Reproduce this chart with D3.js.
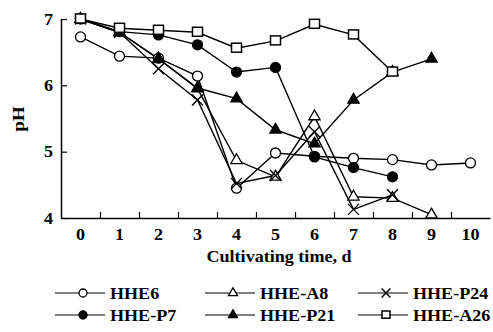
<!DOCTYPE html>
<html lang="en">
<head>
<meta charset="UTF-8">
<title>pH vs cultivating time</title>
<style>
  body, html { margin: 0; padding: 0; background: #fff; }
  svg text { font-family: "Liberation Serif", "Times New Roman", serif; font-weight: bold; fill: #000; }
</style>
<script src="https://d3js.org/d3.v7.min.js"></script>
</head>
<body>
<div id="chart"></div>
<script>
// data
const days = [0, 1, 2, 3, 4, 5, 6, 7, 8, 9, 10];
const hhe6  = [6.73, 6.44, 6.41, 6.14, 4.45, 4.98, 4.93, 4.90, 4.88, 4.80, 4.83];
const hheA8 = [7.00, 6.80, 6.40, 5.95, 4.87, 4.62, 5.53, 4.32, 4.30, 4.05];
const hheP24 = [7.00, 6.80, 6.25, 5.78, 4.52, 4.64, 5.30, 4.13, 4.35];
const hheP7 = [7.00, 6.81, 6.76, 6.61, 6.20, 6.27, 4.92, 4.76, 4.62];
const hheP21 = [7.00, 6.80, 6.40, 5.96, 5.80, 5.33, 5.12, 5.78, 6.20, 6.40];
const hheA26 = [7.00, 6.86, 6.83, 6.80, 6.56, 6.67, 6.92, 6.76, 6.20];
const yTicks = [4, 5, 6, 7];

const series = [
  { name: "HHE6", values: hhe6, marker: "circle", fill: "#fff" },
  { name: "HHE-A8", values: hheA8, marker: "triangle", fill: "#fff" },
  { name: "HHE-P24", values: hheP24, marker: "cross", fill: "none" },
  { name: "HHE-P7", values: hheP7, marker: "circle", fill: "#000" },
  { name: "HHE-P21", values: hheP21, marker: "triangle", fill: "#000" },
  { name: "HHE-A26", values: hheA26, marker: "square", fill: "#fff" }
];

const W = 493, H = 332;
const SX = 1.13; // the scanned type is a bit wider than Liberation Serif
const svg = d3.select("#chart").append("svg")
  .attr("width", W).attr("height", H);

const x = d3.scaleLinear().domain([-0.5, 10.5]).range([61, 490]);
const y = d3.scaleLinear().domain([4, 7]).range([218, 19]);

function label(parent, tx, ty, str, size, anchor, rot) {
  return parent.append("text")
    .attr("transform", `translate(${tx},${ty})` + (rot ? ` rotate(${rot})` : "") + ` scale(${SX},1)`)
    .attr("text-anchor", anchor || "start")
    .style("font-size", size + "px")
    .text(str);
}

// axes: ticks point inward
const xAxis = svg.append("g")
  .attr("transform", `translate(0,${y(4)})`)
  .call(d3.axisBottom(x).tickValues(d3.range(0.5, 10.5, 1)).tickSize(-6).tickFormat("").tickSizeOuter(0));
xAxis.select(".domain").attr("stroke-width", 1.5);
xAxis.selectAll(".tick line").attr("stroke-width", 1.2);

const yAxis = svg.append("g")
  .attr("transform", `translate(${x(-0.5)},0)`)
  .call(d3.axisLeft(y).tickValues(yTicks).tickSize(-6).tickFormat("").tickSizeOuter(0));
yAxis.select(".domain").attr("stroke-width", 1.5);
yAxis.selectAll(".tick line").attr("stroke-width", 1.2);

// tick labels
const xl = svg.append("g");
days.forEach(d => label(xl, x(d), y(4) + 22, d, 16, "middle"));
const yl = svg.append("g");
yTicks.forEach(d => label(yl, 53, y(d) + 5.5, d, 16, "end"));

label(svg, 279, 262, "Cultivating time, d", 16, "middle");
label(svg, 24, 119, "pH", 17, "middle", -90);

function drawMarker(g, type, fill, s) {
  if (type === "circle") {
    g.append("circle").attr("r", s * 0.5).attr("fill", fill).attr("stroke", "#000").attr("stroke-width", 1.3);
  } else if (type === "square") {
    g.append("rect").attr("x", -s / 2).attr("y", -s / 2).attr("width", s).attr("height", s * 0.9)
      .attr("fill", fill).attr("stroke", "#000").attr("stroke-width", 1.5);
  } else if (type === "triangle") {
    g.append("path").attr("d", d3.symbol(d3.symbolTriangle, s * s * 0.55)())
      .attr("fill", fill).attr("stroke", "#000").attr("stroke-width", 1.3);
  } else if (type === "cross") {
    const h = s * 0.55;
    g.append("path").attr("d", `M${-h},${-h}L${h},${h}M${-h},${h}L${h},${-h}`)
      .attr("stroke", "#000").attr("stroke-width", 1.4).attr("fill", "none");
  }
}

const line = d3.line().x((d, i) => x(days[i])).y(d => y(d));

const plot = svg.append("g");
series.forEach(s => {
  plot.append("path").datum(s.values)
    .attr("d", line).attr("fill", "none")
    .attr("stroke", "#000").attr("stroke-width", 1.4);
});
series.forEach(s => {
  s.values.forEach((v, i) => {
    const g = plot.append("g").attr("transform", `translate(${x(days[i])},${y(v)})`);
    drawMarker(g, s.marker, s.fill, 10);
  });
});

// legend
const colX = [55, 205, 358];
const rowY = [293, 315];
const leg = svg.append("g");
series.forEach((s, i) => {
  const cx = colX[i % 3], cy = rowY[Math.floor(i / 3)];
  const g = leg.append("g").attr("transform", `translate(${cx},${cy})`);
  g.append("line").attr("x1", 0).attr("x2", 50).attr("y1", 0).attr("y2", 0)
    .attr("stroke", "#000").attr("stroke-width", 1.2);
  const m = g.append("g").attr("transform", "translate(28,0)");
  drawMarker(m, s.marker, s.fill, 8);
  label(g, 55, 5.5, s.name, 16);
});
</script>
</body>
</html>
